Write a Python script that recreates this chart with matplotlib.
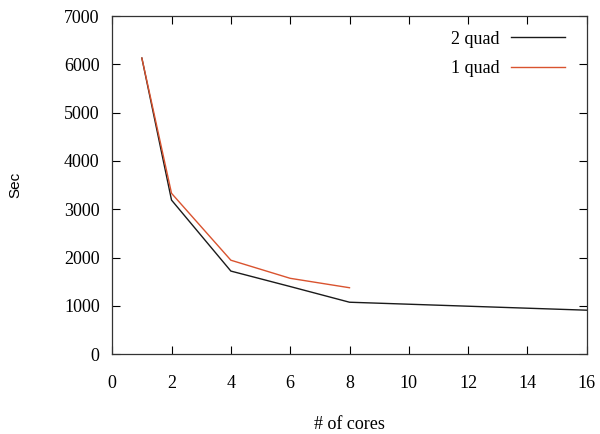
import matplotlib
matplotlib.use("Agg")
import matplotlib.pyplot as plt

cores_2quad = [1, 2, 4, 6, 8, 16]
sec_2quad = [6130, 3190, 1720, 1400, 1075, 910]
cores_1quad = [1, 2, 4, 6, 8]
sec_1quad = [6130, 3330, 1945, 1570, 1375]

plt.rcParams['font.family'] = ['Liberation Serif', 'DejaVu Serif']
plt.rcParams['font.size'] = 13

fig = plt.figure(figsize=(6.0, 4.34), dpi=100)
ax = fig.add_axes([0.187, 0.184, 0.791, 0.779])
ax.plot(cores_2quad, sec_2quad, color='#1a1a1a', lw=1.0, label='2 quad')
ax.plot(cores_1quad, sec_1quad, color='#d9532f', lw=1.0, label='1 quad')
ax.set_xlim(0, 16)
ax.set_ylim(0, 7000)
ax.set_xticks(range(0, 17, 2))
ax.set_yticks(range(0, 7001, 1000))
ax.tick_params(direction='in', top=True, right=True, length=6, width=0.8, labelsize=13)
ax.tick_params(axis='x', pad=15)
ax.tick_params(axis='y', pad=9)
for s in ax.spines.values():
    s.set_linewidth(0.9)
    s.set_color('#333333')
ax.set_xlabel('# of cores', fontsize=13, labelpad=17)
ax.set_ylabel('Sec', fontsize=11, family=['Liberation Sans', 'DejaVu Sans'])
ax.yaxis.set_label_coords(-0.19, 0.5)
leg = ax.legend(loc='upper right', frameon=False, markerfirst=False, handlelength=3.0,
                handletextpad=0.6, fontsize=13, borderaxespad=0.0, borderpad=0.0,
                labelspacing=0.68, bbox_to_anchor=(0.954, 0.957))
fig.savefig('out.png', dpi=100)
